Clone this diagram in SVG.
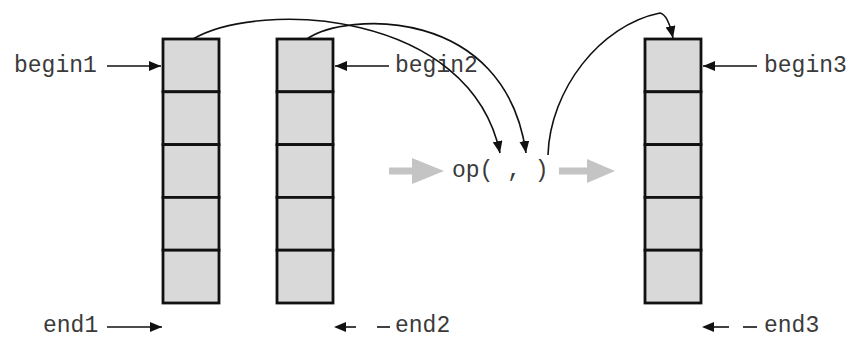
<svg xmlns="http://www.w3.org/2000/svg" width="851" height="339" viewBox="0 0 851 339">
  <style>
    .cell { fill: #d9d9d9; stroke: #111; stroke-width: 2.8; }
    .lbl { font-family: "Liberation Mono", "Courier New", monospace; font-size: 23px; fill: #3a3a3a; }
    .ptr { fill: none; stroke: #111; stroke-width: 1.6; }
    .tip { fill: #111; }
    .flow { fill: #c4c4c4; }
  </style>
  <defs>
    <marker id="head" viewBox="0 0 12 10" refX="12" refY="5" markerWidth="12" markerHeight="10" markerUnits="userSpaceOnUse" orient="auto">
      <path d="M0,0 L12,5 L0,10 Z" fill="#111"/>
    </marker>
  </defs>

  <!-- sequence 1 -->
  <g id="seq1">
    <rect class="cell" x="163" y="39" width="56" height="52.8"/>
    <rect class="cell" x="163" y="91.8" width="56" height="52.8"/>
    <rect class="cell" x="163" y="144.6" width="56" height="52.8"/>
    <rect class="cell" x="163" y="197.4" width="56" height="52.8"/>
    <rect class="cell" x="163" y="250.2" width="56" height="52.8"/>
  </g>

  <!-- sequence 2 -->
  <g id="seq2">
    <rect class="cell" x="277" y="39" width="56" height="52.8"/>
    <rect class="cell" x="277" y="91.8" width="56" height="52.8"/>
    <rect class="cell" x="277" y="144.6" width="56" height="52.8"/>
    <rect class="cell" x="277" y="197.4" width="56" height="52.8"/>
    <rect class="cell" x="277" y="250.2" width="56" height="52.8"/>
  </g>

  <!-- destination sequence -->
  <g id="seq3">
    <rect class="cell" x="645" y="39" width="56" height="52.8"/>
    <rect class="cell" x="645" y="91.8" width="56" height="52.8"/>
    <rect class="cell" x="645" y="144.6" width="56" height="52.8"/>
    <rect class="cell" x="645" y="197.4" width="56" height="52.8"/>
    <rect class="cell" x="645" y="250.2" width="56" height="52.8"/>
  </g>

  <!-- operation -->
  <g id="op">
    <rect class="flow" x="389" y="167.5" width="25" height="7"/>
    <polygon class="flow" points="412,158 444,171 412,184"/>
    <text class="lbl" x="452" y="177">op( , )</text>
    <rect class="flow" x="559" y="167.5" width="30" height="7"/>
    <polygon class="flow" points="587,159 615,171 587,183"/>
  </g>

  <!-- iterator labels -->
  <g id="labels">
    <text class="lbl" x="14" y="72">begin1</text>
    <text class="lbl" x="395" y="72">begin2</text>
    <text class="lbl" x="764" y="72">begin3</text>
    <text class="lbl" x="43" y="332">end1</text>
    <text class="lbl" x="395" y="332">end2</text>
    <text class="lbl" x="764" y="332">end3</text>
  </g>

  <!-- connectors -->
  <g id="connectors">
    <line class="ptr" x1="107" y1="66" x2="161" y2="66" marker-end="url(#head)"/>
    <line class="ptr" x1="389" y1="66" x2="335" y2="66" marker-end="url(#head)"/>
    <line class="ptr" x1="757" y1="66" x2="703" y2="66" marker-end="url(#head)"/>
    <line class="ptr" x1="107" y1="327" x2="162" y2="327" marker-end="url(#head)"/>
    <!-- dashed end markers: head plus two dash strokes -->
    <polygon class="tip" points="334,327 346,322 346,332"/>
    <line class="ptr" x1="346" y1="327" x2="356" y2="327"/>
    <line class="ptr" x1="377" y1="327" x2="390" y2="327"/>
    <polygon class="tip" points="702,327 714,322 714,332"/>
    <line class="ptr" x1="714" y1="327" x2="729" y2="327"/>
    <line class="ptr" x1="743" y1="327" x2="757" y2="327"/>
    <path class="ptr" d="M193,39 C260,0 470,10 500,153" marker-end="url(#head)"/>
    <path class="ptr" d="M307,39 C345,12 505,5 526,153" marker-end="url(#head)"/>
    <path class="ptr" d="M548,155 C550,90 600,25 660,13 C666,14 670,24 673,38" marker-end="url(#head)"/>
  </g>
</svg>
